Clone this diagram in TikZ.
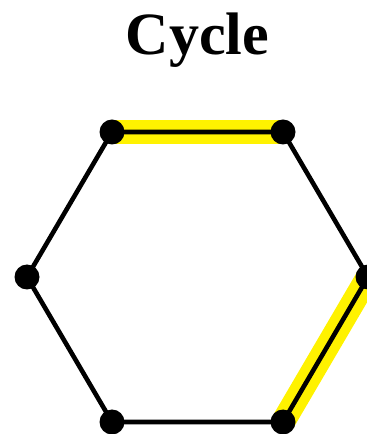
\documentclass[tikz,border=0pt]{standalone}
\usepackage{fontspec}
\setmainfont{Liberation Serif}
\begin{document}
\begin{tikzpicture}[x=1pt,y=1pt,
  vtx/.style={circle,fill=black,inner sep=0pt,minimum size=25pt},
  edge/.style={draw=black,line width=4.6pt},
  hilite/.style={draw=yellow,line width=24pt}]
\useasboundingbox (0,0) rectangle (367,434);
\clip (0,0) rectangle (367,434);
\coordinate (tl) at (112,302);
\coordinate (tr) at (283,302);
\coordinate (l) at (27,157);
\coordinate (r) at (368,157);
\coordinate (bl) at (112,12);
\coordinate (br) at (283,12);
\node[anchor=base,font=\fontsize{60}{60}\selectfont\bfseries] (title) at (197.5,379) {Cycle};
\draw[hilite] (tl) -- (tr);
\draw[hilite] (r) -- (br);
\draw[edge] (tl) -- (tr) -- (r) -- (br) -- (bl) -- (l) -- cycle;
\foreach \p in {tl,tr,l,r,bl,br} \node[vtx] (v\p) at (\p) {};
\end{tikzpicture}
\end{document}
